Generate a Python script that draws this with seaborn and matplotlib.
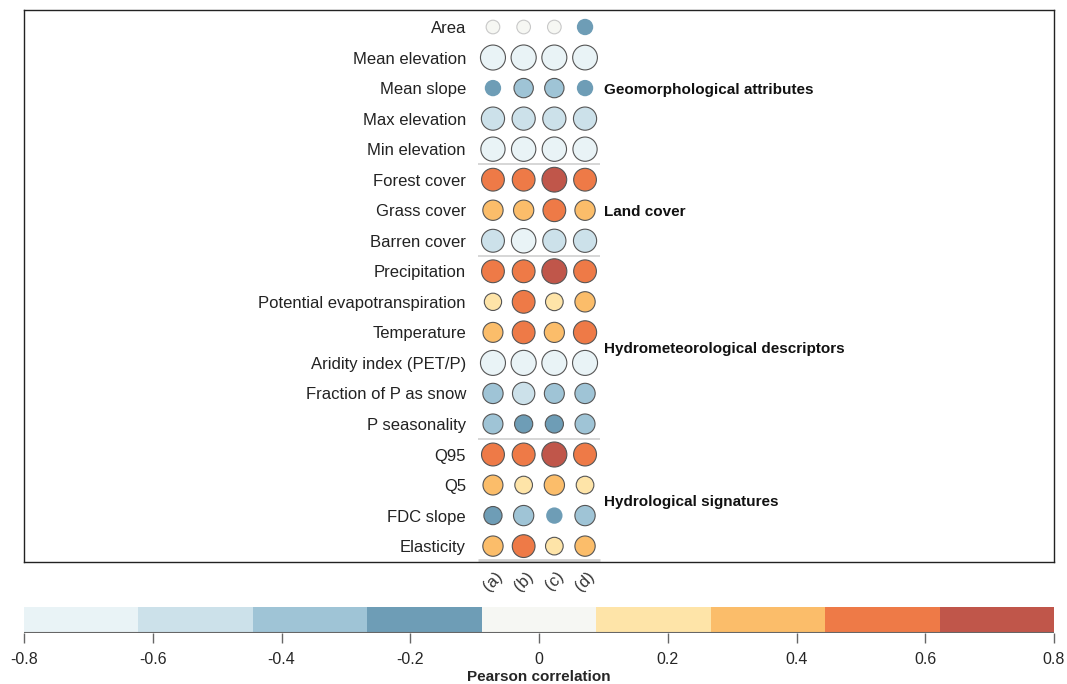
import numpy as np
import pandas as pd
import seaborn as sns
import matplotlib.pyplot as plt
from matplotlib.colors import ListedColormap, BoundaryNorm
import matplotlib as mpl

sns.set_style('white')
plt.rcParams['font.family'] = ['Liberation Sans', 'DejaVu Sans']
plt.rcParams['axes.unicode_minus'] = False

# attributes (rows) and the four cases (columns)
attributes = ['Area', 'Mean elevation', 'Mean slope', 'Max elevation', 'Min elevation',
              'Forest cover', 'Grass cover', 'Barren cover',
              'Precipitation', 'Potential evapotranspiration', 'Temperature',
              'Aridity index (PET/P)', 'Fraction of P as snow', 'P seasonality',
              'Q95', 'Q5', 'FDC slope', 'Elasticity']
cases = ['(a)', '(b)', '(c)', '(d)']

r_a = [0.02, -0.72, -0.15, -0.58, -0.66, 0.55, 0.38, -0.56, 0.55, 0.20, 0.36, -0.72, -0.38, -0.36, 0.56, 0.36, -0.25, 0.38]
r_b = [0.02, -0.73, -0.32, -0.58, -0.67, 0.55, 0.38, -0.68, 0.55, 0.55, 0.55, -0.73, -0.52, -0.25, 0.56, 0.22, -0.38, 0.55]
r_c = [0.02, -0.72, -0.32, -0.58, -0.67, 0.70, 0.55, -0.58, 0.72, 0.22, 0.37, -0.72, -0.36, -0.25, 0.72, 0.38, -0.15, 0.22]
r_d = [-0.15, -0.70, -0.15, -0.58, -0.66, 0.55, 0.38, -0.58, 0.55, 0.38, 0.58, -0.72, -0.38, -0.36, 0.56, 0.22, -0.38, 0.38]

# significance flag (non-significant cells drawn without outline)
sig_a = [1, 1, 0, 1, 1, 1, 1, 1, 1, 1, 1, 1, 1, 1, 1, 1, 1, 1]
sig_b = [1, 1, 1, 1, 1, 1, 1, 1, 1, 1, 1, 1, 1, 1, 1, 1, 1, 1]
sig_c = [1, 1, 1, 1, 1, 1, 1, 1, 1, 1, 1, 1, 1, 1, 1, 1, 0, 1]
sig_d = [0, 1, 0, 1, 1, 1, 1, 1, 1, 1, 1, 1, 1, 1, 1, 1, 1, 1]

groups = ['Geomorphological attributes', 'Land cover',
          'Hydrometeorological descriptors', 'Hydrological signatures']
group_sizes = [5, 3, 6, 4]

colors = ['#E9F3F6', '#CCE1EA', '#9FC4D6', '#6E9DB6', '#F6F7F3',
          '#FEE4A8', '#FBBD6A', '#EE7A47', '#C0564A']
bounds = np.linspace(-0.8, 0.8, 10)

# long table
rows = []
for j, (vals, sigs) in enumerate(zip([r_a, r_b, r_c, r_d], [sig_a, sig_b, sig_c, sig_d])):
    for i, (v, s) in enumerate(zip(vals, sigs)):
        b = int(np.digitize(v, bounds[1:-1]))
        if not s:
            edge = 'none'
        elif b == 4:
            edge = '#c8c8c8'
        else:
            edge = '#555555'
        rows.append({'col': j, 'row': i, 'r': v, 'absr': abs(v),
                     'color': colors[b], 'edge': edge})
df = pd.DataFrame(rows)

fig = plt.figure(figsize=(10.67, 6.84), dpi=100)
ax = fig.add_axes([24 / 1067, 1 - 562 / 684, 1030 / 1067, 552 / 684])

pal = {c: c for c in colors}
for edge, sub in df.groupby('edge'):
    sns.scatterplot(data=sub, x='col', y='row', hue='color', palette=pal,
                    size='absr', sizes=(90, 350), size_norm=(0, 0.8),
                    edgecolor=edge, linewidth=0.8, legend=False, ax=ax, zorder=3)

ax.set_xlim(-15.28, 18.28)
ax.set_ylim(17.52, -0.557)

# row labels
for i, name in enumerate(attributes):
    ax.text(-0.88, i, name, ha='right', va='center_baseline', fontsize=12, color='#222222')

# group separators and labels
start = 0
for g, n in zip(groups, group_sizes):
    end = start + n
    ax.hlines(end - 0.5 if end < len(attributes) else 17.45, -0.49, 3.48,
              color='#d0d0d0', lw=1.2 if end < len(attributes) else 2, zorder=1)
    ax.text(3.61, (start + end - 1) / 2, g, ha='left', va='center_baseline',
            fontsize=11, fontweight='bold', color='#111111')
    start = end

ax.set_xticks(range(4))
ax.set_xticklabels(cases, rotation=45, fontsize=12, color='#333333')
ax.tick_params(axis='x', length=0, pad=5)
ax.set_yticks([])
ax.set_xlabel('')
ax.set_ylabel('')
for s in ax.spines.values():
    s.set_visible(True)
    s.set_color('#222222')
    s.set_linewidth(1)

# colorbar
cax = fig.add_axes([24 / 1067, 1 - 633 / 684, 1030 / 1067, 26 / 684])
cmap = ListedColormap(colors)
norm = BoundaryNorm(bounds, cmap.N)
cb = fig.colorbar(mpl.cm.ScalarMappable(norm=norm, cmap=cmap), cax=cax,
                  orientation='horizontal', ticks=np.round(np.arange(-0.8, 0.81, 0.2), 1))
cb.outline.set_visible(False)
cax.minorticks_off()
cax.set_xticklabels(['-0.8', '-0.6', '-0.4', '-0.2', '0', '0.2', '0.4', '0.6', '0.8'])
cax.tick_params(axis='x', which='major', length=7, width=1, color='#666666', labelsize=11.5, pad=7)
cax.tick_params(axis='x', which='minor', length=0)
cax.axhline(0, color='#666666', lw=1.5)
cb.set_label('Pearson correlation', fontsize=11, fontweight='bold', labelpad=2)

fig.savefig('out.png', dpi=100)
